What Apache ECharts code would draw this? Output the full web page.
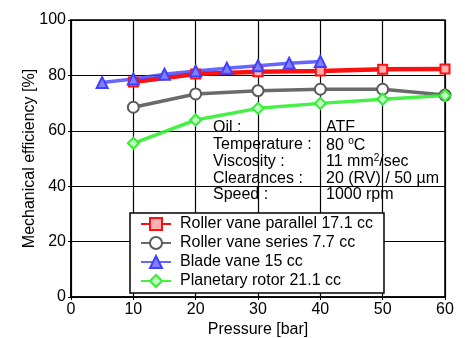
<!DOCTYPE html>
<html>
<head>
<meta charset="utf-8">
<script src="https://cdn.jsdelivr.net/npm/echarts@6/dist/echarts.min.js"></script>
<style>
html,body{margin:0;padding:0;background:#fff;}
#chart{width:465px;height:338px;}
</style>
</head>
<body>
<div id="chart"></div>
<script>
// Pressure [bar] and mechanical efficiency [%] per pump type
const pressureMain = [10, 20, 30, 40, 50, 60];
const pressureBlade = [5, 10, 15, 20, 25, 30, 35, 40];
const rollerParallel = [77.6, 80.5, 81.3, 81.6, 82.2, 82.3];
const rollerSeries = [68.5, 73.3, 74.5, 75.0, 75.0, 72.9];
const bladeVane = [77.4, 78.7, 80.4, 81.6, 82.6, 83.5, 84.4, 85.0];
const planetary = [55.5, 63.9, 68.1, 69.9, 71.4, 72.7];

const seriesNames = [
  'Roller vane parallel 17.1 cc',
  'Roller vane series 7.7 cc',
  'Blade vane 15 cc',
  'Planetary rotor 21.1 cc'
];
const xTicks = [0, 10, 20, 30, 40, 50, 60];
const yTicks = [0, 20, 40, 60, 80, 100];

// Test conditions (rich-text markup for the superscript)
const conditionLabels = ['Oil :', 'Temperature :', 'Viscosity :', 'Clearances :', 'Speed :'];
const conditionValues = ['ATF', '80 {sup|o}C', '11 mm{sup|2}/sec', '20 (RV) / 50 \u00B5m', '1000 rpm'];

const pairs = (xs, ys) => xs.map((x, i) => [x, ys[i]]);
const FONT = 'Liberation Sans, Arial, sans-serif';
const FS = 16;

const chart = echarts.init(document.getElementById('chart'), null, {renderer: 'canvas'});

function makeSeries(name, data, color, fill, symbol, size, width, opacity) {
  return {
    name: name,
    type: 'line',
    data: data,
    symbol: symbol,
    symbolSize: size,
    showAllSymbol: true,
    z: 5,
    lineStyle: {color: color, width: width, opacity: opacity},
    itemStyle: {color: fill, borderColor: color, borderWidth: 2, opacity: 1},
    emphasis: {disabled: true},
    animation: false
  };
}

const graphicText = [];
conditionLabels.forEach((t, i) => {
  graphicText.push({
    type: 'text', left: 213, top: 120 + i * 16.7, z: 10,
    style: {text: t, font: FS + 'px ' + FONT, fill: '#000'}
  });
});
conditionValues.forEach((t, i) => {
  graphicText.push({
    type: 'text', left: 326, top: 120 + i * 16.7, z: 10,
    style: {
      text: t, fontFamily: FONT, fontSize: FS, fill: '#000',
      rich: {sup: {fontFamily: FONT, fontSize: 10, verticalAlign: 'top', padding: [0, 0, 7, 0]}}
    }
  });
});

chart.setOption({
  animation: false,
  backgroundColor: '#ffffff',
  grid: {
    left: 71, right: 20, top: 20, bottom: 41,
    outerBoundsMode: 'none', containLabel: false,
    show: true, borderColor: '#000', borderWidth: 1.5
  },
  xAxis: {
    type: 'value', min: 0, max: 60, interval: 10,
    name: 'Pressure [bar]', nameLocation: 'middle', nameGap: 25, nameMoveOverlap: false,
    nameTextStyle: {fontFamily: FONT, fontSize: FS, color: '#000'},
    axisLine: {show: true, onZero: false, lineStyle: {color: '#000', width: 1.5}},
    axisTick: {show: true, length: 3, inside: false, lineStyle: {color: '#000'}},
    axisLabel: {fontFamily: FONT, fontSize: FS, color: '#000', margin: 5,
      formatter: v => xTicks.includes(v) ? String(v) : ''},
    splitLine: {show: true, lineStyle: {color: '#000', width: 1.2}}
  },
  yAxis: {
    type: 'value', min: 0, max: 100, interval: 20,
    name: 'Mechanical efficiency [%]', nameLocation: 'middle', nameGap: 33, nameMoveOverlap: false,
    nameTextStyle: {fontFamily: FONT, fontSize: FS, color: '#000'},
    axisLine: {show: true, lineStyle: {color: '#000', width: 1.5}},
    axisTick: {show: true, length: 3, lineStyle: {color: '#000'}},
    axisLabel: {fontFamily: FONT, fontSize: FS, color: '#000', margin: 5,
      formatter: v => yTicks.includes(v) ? String(v) : ''},
    splitLine: {show: true, lineStyle: {color: '#000', width: 1.2}}
  },
  legend: {
    show: true,
    orient: 'vertical',
    left: 130, top: 213,
    padding: [3, 11, 4, 10],
    itemGap: 3,
    itemWidth: 30, itemHeight: 15,
    backgroundColor: '#ffffff',
    borderColor: '#000', borderWidth: 1.5,
    textStyle: {fontFamily: FONT, fontSize: FS, color: '#000', padding: [0, 0, 0, 4]},
    data: seriesNames,
    selectedMode: false,
    z: 10
  },
  graphic: graphicText,
  series: [
    makeSeries(seriesNames[0], pairs(pressureMain, rollerParallel), '#ff1010', '#ffb0b0', 'rect', 9, 4.5, 1),
    makeSeries(seriesNames[1], pairs(pressureMain, rollerSeries), '#5a5a5a', '#ffffff', 'circle', 11, 3.5, 0.9),
    makeSeries(seriesNames[2], pairs(pressureBlade, bladeVane), '#4040ff', '#8080ff', 'triangle', 11, 3.5, 0.8),
    makeSeries(seriesNames[3], pairs(pressureMain, planetary), '#33ee33', '#c0ffc0', 'diamond', 11, 3.5, 0.9)
  ]
});
</script>
</body>
</html>
